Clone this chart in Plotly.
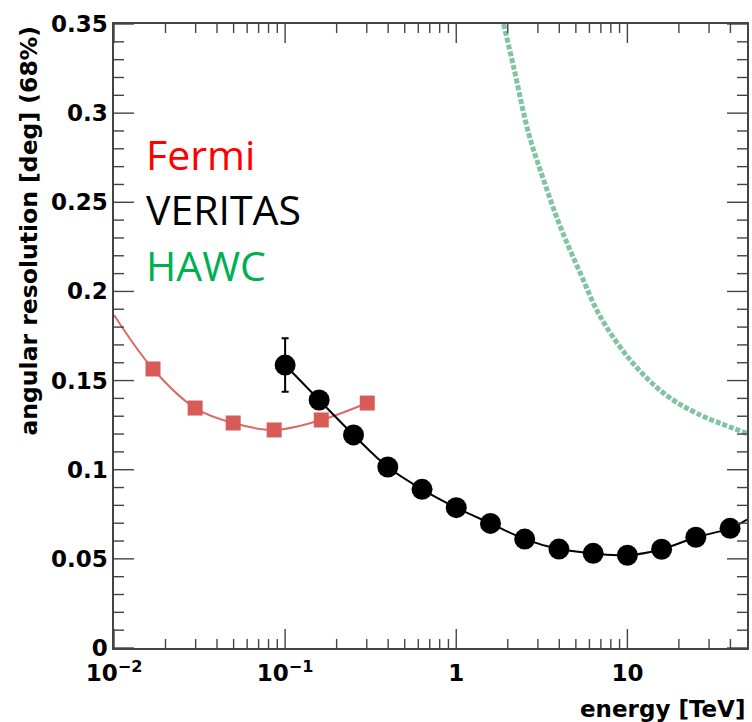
import plotly.graph_objects as go

# ---- data ----
fermi_energy = [0.0169, 0.0298, 0.0497, 0.0863, 0.1626, 0.302]
fermi_res = [0.1565, 0.1346, 0.1262, 0.1223, 0.1279, 0.1374]
fermi_fit_energy = [0.01, 0.0169, 0.0298, 0.0497, 0.0863, 0.1626, 0.302]
fermi_fit_res = [0.1868, 0.1565, 0.1346, 0.1262, 0.1223, 0.1279, 0.1374]

veritas_energy = [0.1, 0.158, 0.251, 0.398, 0.631, 1.0, 1.585, 2.512, 3.981,
                  6.31, 10.0, 15.85, 25.12, 39.81]
veritas_res = [0.1587, 0.1391, 0.1195, 0.1015, 0.0890, 0.0787, 0.0699, 0.0611,
               0.0555, 0.0531, 0.0520, 0.0554, 0.0621, 0.0671]
veritas_err = [0.015, 0, 0, 0, 0, 0, 0, 0, 0, 0, 0, 0, 0, 0]
veritas_fit_energy = veritas_energy + [50.0]
veritas_fit_res = veritas_res + [0.0720]

hawc_energy = [1.891, 2.163, 2.647, 3.24, 4.055, 5.31, 6.95, 10.4, 16.3, 25.5, 50.0]
hawc_res = [0.35, 0.326, 0.2887, 0.2625, 0.2363, 0.2102, 0.1858, 0.1615,
            0.1429, 0.1316, 0.1204]

x_range_log = [-2, 1.69897]
y_range = [0, 0.35]
x_major = [0.01, 0.1, 1, 10]
x_major_text = ["10<sup>\u22122</sup>", "10<sup>\u22121</sup>", "1", "10"]
x_minor = [m * d for d in [0.01, 0.1, 1] for m in range(2, 10)] + [20, 30, 40]
y_major = [0, 0.05, 0.1, 0.15, 0.2, 0.25, 0.3, 0.35]
y_major_text = ["0", "0.05", "0.1", "0.15", "0.2", "0.25", "0.3", "0.35"]
y_minor = [round(0.01 * i, 2) for i in range(36) if i % 5 != 0]

legend_labels = ["Fermi", "VERITAS", "HAWC"]
legend_colors = ["#ff0000", "#000000", "#00b050"]

# ---- layout geometry ----
W, H = 752, 722
ML, MR, MT, MB = 114, 5, 24, 74
PW, PH = W - ML - MR, H - MT - MB
axcol = "#444444"

# ---- figure ----
fig = go.Figure()

fig.add_trace(go.Scatter(
    x=hawc_energy, y=hawc_res, mode="lines", line_shape="spline",
    line=dict(color="#80c4a2", width=5, dash="5px,2px"), hoverinfo="skip"))

fig.add_trace(go.Scatter(
    x=fermi_fit_energy, y=fermi_fit_res, mode="lines", line_shape="spline",
    line=dict(color="#dc6a64", width=2), hoverinfo="skip"))
fig.add_trace(go.Scatter(
    x=fermi_energy, y=fermi_res, mode="markers",
    marker=dict(symbol="square", size=15, color="#d75b56")))

fig.add_trace(go.Scatter(
    x=veritas_fit_energy, y=veritas_fit_res, mode="lines", line_shape="spline",
    line=dict(color="#000000", width=2), hoverinfo="skip"))
fig.add_trace(go.Scatter(
    x=veritas_energy, y=veritas_res, mode="markers",
    marker=dict(symbol="circle", size=21, color="#000000"),
    error_y=dict(type="data", array=veritas_err, color="#000000",
                 thickness=2, width=3.5)))

tick_font = dict(family="DejaVu Sans", size=23, color="#000000", weight="bold")

fig.update_layout(
    template="none",
    xaxis=dict(
        type="log", range=x_range_log,
        tickmode="array", tickvals=x_major, ticktext=x_major_text,
        ticks="", showline=True, linecolor=axcol, linewidth=1.5,
        mirror=True, showgrid=False, zeroline=False, tickfont=tick_font,
        ticklabelstandoff=4),
    yaxis=dict(
        range=y_range,
        tickmode="array", tickvals=y_major, ticktext=y_major_text,
        ticks="", showline=True, linecolor=axcol, linewidth=1.5,
        mirror=True, showgrid=False, zeroline=False, tickfont=tick_font),
)

# tick marks (inside, mirrored on all four sides), placed at the tick arrays
shapes = []
tick_line = dict(color=axcol, width=1.4)
for vals, length in ((x_major, 19), (x_minor, 9)):
    f = length / PH
    for v in vals:
        shapes.append(dict(type="line", xref="x", yref="y domain",
                           x0=v, x1=v, y0=0, y1=f, line=tick_line))
        shapes.append(dict(type="line", xref="x", yref="y domain",
                           x0=v, x1=v, y0=1, y1=1 - f, line=tick_line))
for vals, length in ((y_major, 20), (y_minor, 10)):
    f = length / PW
    for v in vals:
        shapes.append(dict(type="line", xref="x domain", yref="y",
                           x0=0, x1=f, y0=v, y1=v, line=tick_line))
        shapes.append(dict(type="line", xref="x domain", yref="y",
                           x0=1, x1=1 - f, y0=v, y1=v, line=tick_line))

annotations = []
leg_y = [0.792, 0.704, 0.613]
for lab, col, yy in zip(legend_labels, legend_colors, leg_y):
    annotations.append(dict(
        text=lab, x=0.047, y=yy, xref="paper", yref="paper",
        xanchor="left", yanchor="middle", showarrow=False,
        font=dict(family="Open Sans", size=41, color=col)))

annotations.append(dict(
    text="energy [TeV]", x=1.0, y=-0.098, xref="paper", yref="paper",
    xanchor="right", yanchor="middle", showarrow=False,
    font=dict(family="DejaVu Sans", size=23, color="#000000", weight="bold")))
annotations.append(dict(
    text="angular resolution [deg] (68%)", x=-0.135, y=1.0, xref="paper",
    yref="paper", xanchor="center", yanchor="top", textangle=-90,
    showarrow=False,
    font=dict(family="DejaVu Sans", size=23.5, color="#000000", weight="bold")))

fig.update_layout(
    width=W, height=H,
    margin=dict(l=ML, r=MR, t=MT, b=MB),
    plot_bgcolor="white", paper_bgcolor="white",
    showlegend=False, annotations=annotations, shapes=shapes)

fig.write_html("out.html")
